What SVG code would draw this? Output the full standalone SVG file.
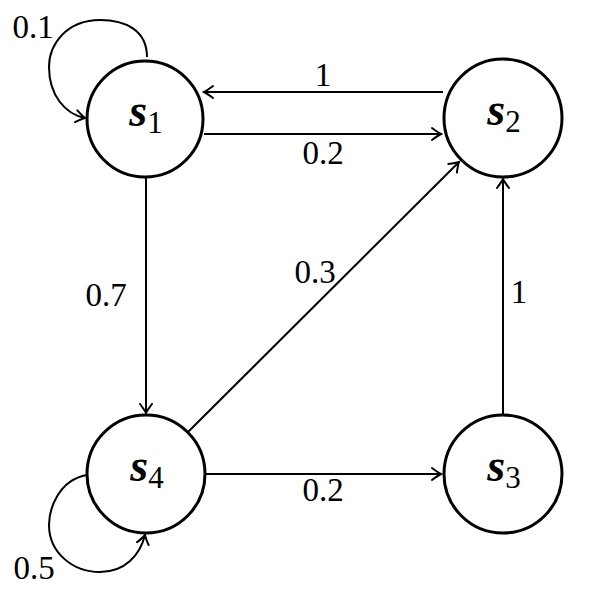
<svg xmlns="http://www.w3.org/2000/svg" width="589" height="593" viewBox="0 0 589 593">
<defs>
<marker id="arr" markerUnits="userSpaceOnUse" markerWidth="20" markerHeight="20" viewBox="-10 -10 20 20" refX="0" refY="0" orient="auto">
<path d="M-9,-6 Q-3,-1.5 0,0 Q-3,1.5 -9,6" fill="none" stroke="#000" stroke-width="2" stroke-linecap="round"/>
</marker>
<style>
.n{fill:#fff;stroke:#000;stroke-width:3}
.e{fill:none;stroke:#000;stroke-width:2;marker-end:url(#arr)}
.l{font-family:"Liberation Serif","Times New Roman",serif;font-size:33px;fill:#000;text-anchor:middle}
.s{font-family:"Liberation Serif","Times New Roman",serif;fill:#000;text-anchor:middle}
.v{font-style:italic;font-weight:bold;font-size:46px}
.i{font-size:31px}
</style>
</defs>
<rect width="589" height="593" fill="#fff"/>
<g id="connectors">
<path class="e" d="M443,92 H204"/>
<path class="e" d="M204,134 H441"/>
<path class="e" d="M146,178 V413"/>
<path class="e" d="M503,414 V179"/>
<path class="e" d="M205,474 H441"/>
<path class="e" d="M188,432 L459,162"/>
<path class="e" d="M147,57 C147,30 125,20 100,20 C67,20 49,44 49,67 C49,95 65,114 85,118"/>
<path class="e" d="M87,475 C58,480 49,510 49,525 C49,552 72,572 100,572 C125,572 140,555 145,535"/>
<text class="l" x="323" y="86">1</text>
<text class="l" x="323" y="164">0.2</text>
<text class="l" x="106" y="306">0.7</text>
<text class="l" x="315" y="283">0.3</text>
<text class="l" x="519" y="303">1</text>
<text class="l" x="323" y="501">0.2</text>
<text class="l" x="33" y="38">0.1</text>
<text class="l" x="34" y="579">0.5</text>
</g>
<g id="s1">
<circle class="n" cx="145" cy="119" r="58"/>
<text class="s" x="146" y="126"><tspan class="v">s</tspan><tspan class="i" dy="7">1</tspan></text>
</g>
<g id="s2">
<circle class="n" cx="503" cy="118" r="59"/>
<text class="s" x="504" y="125"><tspan class="v">s</tspan><tspan class="i" dy="7">2</tspan></text>
</g>
<g id="s3">
<circle class="n" cx="503" cy="474" r="59"/>
<text class="s" x="504" y="481"><tspan class="v">s</tspan><tspan class="i" dy="7">3</tspan></text>
</g>
<g id="s4">
<circle class="n" cx="146" cy="474" r="59"/>
<text class="s" x="147" y="481"><tspan class="v">s</tspan><tspan class="i" dy="7">4</tspan></text>
</g>
</svg>
